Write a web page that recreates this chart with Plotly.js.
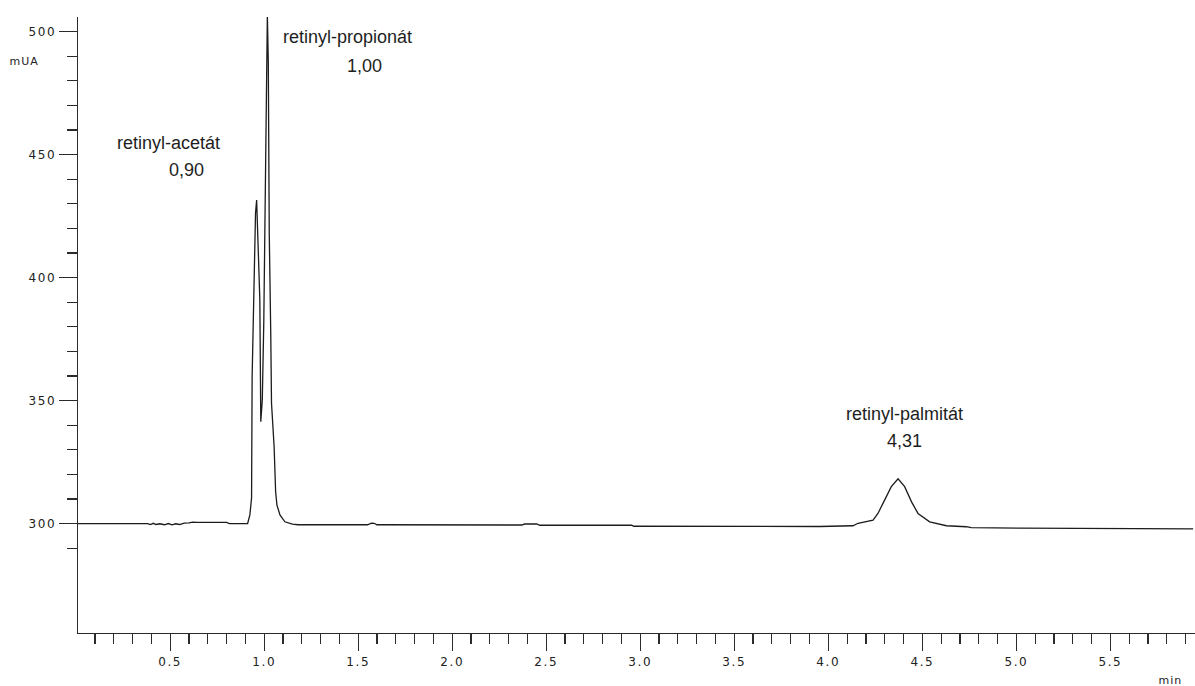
<!DOCTYPE html>
<html>
<head>
<meta charset="utf-8">
<script src="https://cdn.plot.ly/plotly-3.0.1.min.js"></script>
<style>
  html, body { margin: 0; padding: 0; background: #fff; }
  #chart { width: 1195px; height: 686px; }
  .xtick text, .ytick text { letter-spacing: 1.6px; }
  .annotation[data-index="6"] text, .annotation[data-index="7"] text { letter-spacing: 1px; }
</style>
</head>
<body>
<div id="chart"></div>
<script>
// Retention time (min) of the detector trace
const timeMin = [
  0.010, 0.380, 0.395, 0.410, 0.425, 0.445, 0.470, 0.490, 0.510, 0.530,
  0.550, 0.575, 0.600, 0.620, 0.640, 0.800, 0.815, 0.912, 0.924, 0.933,
  0.936, 0.945, 0.954, 0.960, 0.966, 0.977, 0.982, 0.990, 0.998, 1.006,
  1.012, 1.017, 1.022, 1.027, 1.035, 1.039, 1.053, 1.061, 1.068, 1.084,
  1.110, 1.150, 1.180, 1.550, 1.570, 1.585, 1.600, 2.370, 2.385, 2.450,
  2.465, 2.600, 2.615, 2.945, 2.955, 2.965, 3.954, 4.131, 4.158, 4.238,
  4.264, 4.300, 4.335, 4.371, 4.406, 4.442, 4.477, 4.539, 4.628, 4.734,
  4.760, 5.018, 5.940
];

// Absorbance (mAU) at each time point
const signalMUA = [
  300.0, 300.0, 299.6, 300.1, 299.6, 299.9, 299.5, 300.0, 299.5, 299.9,
  299.6, 300.2, 300.3, 300.6, 300.5, 300.5, 300.0, 300.0, 303.5, 310.4,
  359.7, 401.0, 426.2, 431.5, 419.3, 390.9, 341.4, 350.2, 381.9, 438.4,
  466.9, 506.7, 487.6, 418.5, 377.4, 349.0, 331.1, 312.8, 307.5, 303.5,
  300.7, 299.8, 299.5, 299.5, 300.2, 300.1, 299.5, 299.4, 299.8, 299.8,
  299.3, 299.3, 299.0, 299.0, 299.3, 298.9, 298.8, 299.1, 300.1, 301.4,
  304.1, 309.6, 315.0, 318.2, 315.0, 308.9, 304.1, 300.7, 299.1, 298.7,
  298.3, 298.1, 297.8
];

// Peak names and relative retention times
const peakNames = ['retinyl-acetát', 'retinyl-propionát', 'retinyl-palmitát'];
const peakRRT = ['0,90', '1,00', '4,31'];

// Axis tick values
const xMajorTicks = [0.5, 1.0, 1.5, 2.0, 2.5, 3.0, 3.5, 4.0, 4.5, 5.0, 5.5];
const xMajorLabels = ['0.5', '1.0', '1.5', '2.0', '2.5', '3.0', '3.5', '4.0', '4.5', '5.0', '5.5'];
const yMajorTicks = [300, 350, 400, 450, 500];
const yMinorTicks = [290, 310, 320, 330, 340, 360, 370, 380, 390,
                     410, 420, 430, 440, 460, 470, 480, 490];

const axisColor = '#2b2b2b';
const tickFont = { family: 'DejaVu Sans', size: 12, color: '#222222' };
const labelFont = { family: 'Liberation Sans', size: 18, color: '#1e1e1e' };
const unitFont = { family: 'DejaVu Sans', size: 11, color: '#222222' };

// Label anchor points (data coordinates) for peak name and RRT lines
const namePos = [[0.491, 454.7], [1.445, 497.8], [4.406, 344.5]];
const rrtPos  = [[0.589, 443.7], [1.535, 486.0], [4.406, 333.5]];

const annotations = [];
peakNames.forEach((name, i) => {
  annotations.push({
    x: namePos[i][0], y: namePos[i][1], xref: 'x', yref: 'y',
    text: name, showarrow: false, font: labelFont,
    xanchor: 'center', yanchor: 'middle'
  });
  annotations.push({
    x: rrtPos[i][0], y: rrtPos[i][1], xref: 'x', yref: 'y',
    text: peakRRT[i], showarrow: false, font: labelFont,
    xanchor: 'center', yanchor: 'middle'
  });
});
// Unit captions (pixel positions, converted to paper fractions below)
annotations.push({
  x: 9, y: 62, xref: 'paper', yref: 'paper', text: 'mUA',
  showarrow: false, font: unitFont, xanchor: 'left', yanchor: 'middle'
});
annotations.push({
  x: 1170, y: 680, xref: 'paper', yref: 'paper', text: 'min',
  showarrow: false, font: unitFont, xanchor: 'center', yanchor: 'middle'
});

const W = 1195, H = 686;
const M = { l: 78, r: 0, t: 17, b: 53 };
annotations.forEach(a => {
  if (a.xref === 'paper') {
    a.x = (a.x - M.l) / (W - M.l - M.r);
    a.y = 1 - (a.y - M.t) / (H - M.t - M.b);
  }
});

const trace = {
  x: timeMin, y: signalMUA, type: 'scatter', mode: 'lines',
  line: { color: '#1c1c1c', width: 1.3, shape: 'linear' },
  hoverinfo: 'x+y', showlegend: false
};

const layout = {
  width: W, height: H,
  margin: M,
  paper_bgcolor: '#ffffff', plot_bgcolor: '#ffffff',
  showlegend: false,
  xaxis: {
    range: [0.01, 5.95],
    showgrid: false, zeroline: false,
    showline: true, linecolor: axisColor, linewidth: 1.3,
    ticks: 'outside', ticklen: 17, tickwidth: 1.2, tickcolor: axisColor,
    tickmode: 'array', tickvals: xMajorTicks, ticktext: xMajorLabels,
    tickfont: tickFont,
    minor: { dtick: 0.1, tick0: 0, ticks: 'outside', ticklen: 10,
             tickwidth: 1.2, tickcolor: axisColor, showgrid: false }
  },
  yaxis: {
    range: [255.5, 505.9],
    showgrid: false, zeroline: false,
    showline: true, linecolor: axisColor, linewidth: 1.3,
    ticks: 'outside', ticklen: 18, tickwidth: 1.2, tickcolor: axisColor,
    tickmode: 'array', tickvals: yMajorTicks,
    tickfont: tickFont,
    minor: { tickmode: 'array', tickvals: yMinorTicks, ticks: 'outside',
             ticklen: 10, tickwidth: 1.2, tickcolor: axisColor, showgrid: false }
  },
  annotations: annotations
};

Plotly.newPlot('chart', [trace], layout, { displayModeBar: false, staticPlot: true });
</script>
</body>
</html>
